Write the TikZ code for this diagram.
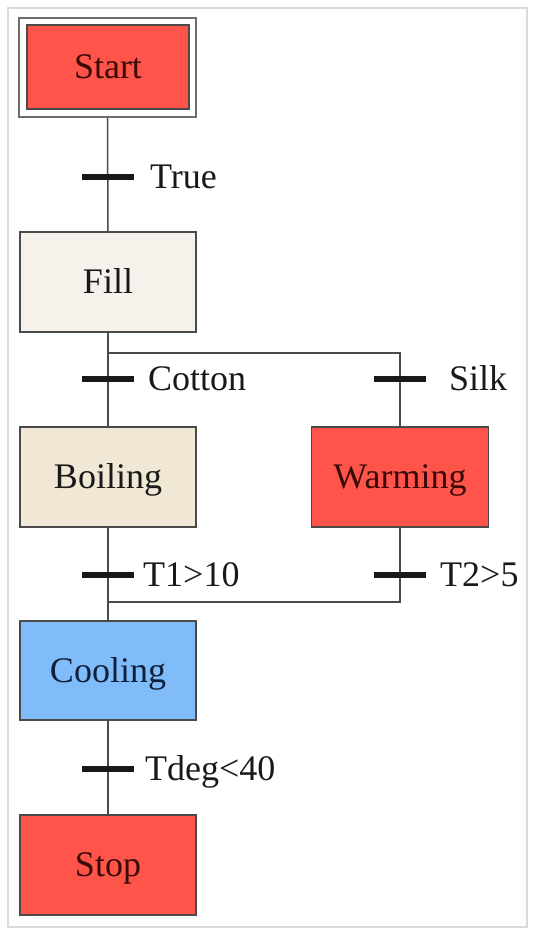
\documentclass[tikz,border=0pt]{standalone}
\usepackage{fontspec}
\setmainfont{Liberation Serif}
\definecolor{stepred}{HTML}{FF5449}
\definecolor{fillc}{HTML}{F6F2EB}
\definecolor{boilc}{HTML}{F0E7D5}
\definecolor{coolc}{HTML}{80BBFA}
\definecolor{edgec}{HTML}{4A4A4A}
\definecolor{redtxt}{HTML}{3A0A08}
\definecolor{cooltxt}{HTML}{10203A}
\definecolor{framec}{HTML}{DADADA}
\begin{document}
\begin{tikzpicture}[x=1pt,y=-1pt,
  txt/.style={font=\fontsize{36}{40}\selectfont, text height=23.8pt, text depth=0pt, inner sep=0pt},
  stepbox/.style={txt, draw=edgec, line width=1.5pt, minimum width=176pt, minimum height=100pt, text=black!90},
  redbox/.style={stepbox, fill=stepred, text=redtxt},
  bar/.style={fill=black!90, draw=none, minimum width=52pt, minimum height=6pt, inner sep=0pt},
  lab/.style={txt, anchor=west, text=black!90},
  link/.style={draw=edgec, line width=1.5pt}]
\useasboundingbox (0,0) rectangle (536,938);
\draw[framec, line width=1.5pt] (8,8) rectangle (527,927);

% steps
\node[draw=edgec!80, line width=2pt, minimum width=177pt, minimum height=99pt, fill=white] (startouter) at (107.5,67.5) {};
\node[redbox, minimum width=162pt, minimum height=84pt] (start) at (108,67) {Start};
\node[stepbox, fill=fillc] (fill) at (108,282) {Fill};
\node[stepbox, fill=boilc] (boiling) at (108,477) {Boiling};
\node[redbox, minimum width=177pt] (warming) at (400,477) {Warming};
\node[stepbox, fill=coolc, text=cooltxt, minimum height=99pt] (cooling) at (108,670.5) {Cooling};
\node[redbox] (stop) at (108,865) {Stop};

% branch coordinates
\coordinate (bl) at (108,353);
\coordinate (br) at (400,353);
\coordinate (ml) at (108,602);
\coordinate (mr) at (400,602);

% connectors
\draw[link] (startouter.south) -- (fill.north);
\draw[link] (fill.south) -- (boiling.north);
\draw[link] (bl) -- (br) -- (warming.north);
\draw[link] (boiling.south) -- (cooling.north);
\draw[link] (warming.south) -- (mr) -- (ml);
\draw[link] (cooling.south) -- (stop.north);

% transitions
\node[bar] (t1) at (108,177) {};
\node[lab] (l1) at (150,177) {True};
\node[bar] (t2) at (108,379) {};
\node[lab] (l2) at (148,379) {Cotton};
\node[bar] (t3) at (400,379) {};
\node[lab] (l3) at (449,379) {Silk};
\node[bar] (t4) at (108,575) {};
\node[lab] (l4) at (143,575) {T1>10};
\node[bar] (t5) at (400,575) {};
\node[lab] (l5) at (440,575) {T2>5};
\node[bar] (t6) at (108,769) {};
\node[lab] (l6) at (145,769) {Tdeg<40};
\end{tikzpicture}
\end{document}
